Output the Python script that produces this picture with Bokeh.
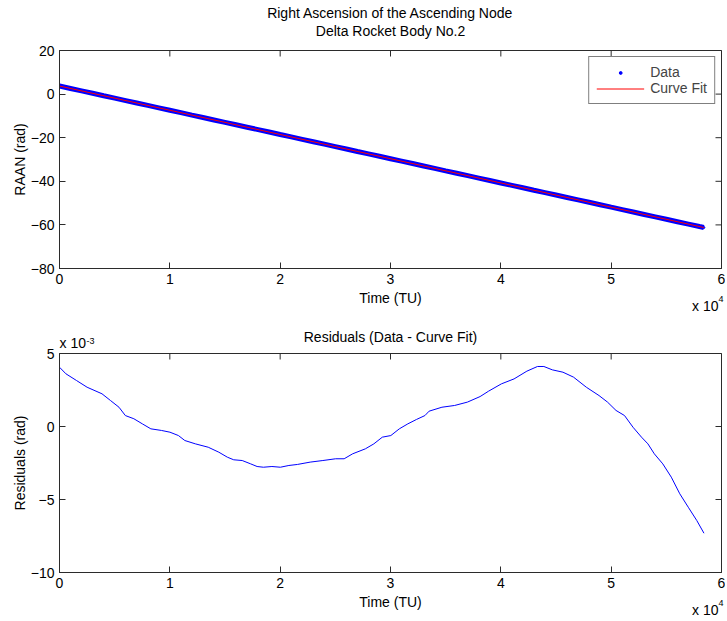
import math
from bokeh.plotting import figure
from bokeh.models import Range1d, FixedTicker, Title, Legend, LegendItem
from bokeh.layouts import column
from bokeh.embed import file_html
from bokeh.resources import INLINE

FONT = "Liberation Sans"
FS = "14px"
SUP = "9px"
AX = "#2b2b2b"

# ---- Top panel: RAAN data (rad) sampled along the orbit history ----
data_time = [0, 1000, 2000, 3000, 4000, 5000, 6000, 7000, 8000, 9000,
             10000, 11000, 12000, 13000, 14000, 15000, 16000, 17000, 18000, 19000,
             20000, 21000, 22000, 23000, 24000, 25000, 26000, 27000, 28000, 29000,
             30000, 31000, 32000, 33000, 34000, 35000, 36000, 37000, 38000, 39000,
             40000, 41000, 42000, 43000, 44000, 45000, 46000, 47000, 48000, 49000,
             50000, 51000, 52000, 53000, 54000, 55000, 56000, 57000, 58000, 58400]
data_raan = [3.70, 2.59, 1.48, 0.37, -0.75, -1.86, -2.97, -4.08, -5.19, -6.30,
             -7.41, -8.52, -9.64, -10.75, -11.86, -12.97, -14.08, -15.19, -16.30, -17.41,
             -18.53, -19.64, -20.75, -21.86, -22.97, -24.08, -25.19, -26.31, -27.42, -28.53,
             -29.64, -30.75, -31.86, -32.97, -34.08, -35.20, -36.31, -37.42, -38.53, -39.64,
             -40.75, -41.86, -42.97, -44.09, -45.20, -46.31, -47.42, -48.53, -49.64, -50.75,
             -51.87, -52.98, -54.09, -55.20, -56.31, -57.42, -58.53, -59.64, -60.76, -61.20]
fit_time = [0, 58400]
fit_raan = [3.70, -61.20]

# ---- Bottom panel: residuals (units of 1e-3 rad) ----
resid_time = [0, 580, 1540, 2500, 3850, 4620, 5390, 5970, 6740, 7510,
              8280, 9240, 10010, 10780, 11360, 12320, 13480, 14440, 15210, 15790,
              16560, 17330, 17910, 18480, 19250, 20020, 20790, 21560, 22720, 23870,
              25030, 25800, 26570, 27720, 28490, 29260, 30030, 30800, 31570, 32350,
              33120, 33500, 34660, 35810, 36970, 38120, 38890, 40050, 41200, 42360,
              43320, 43900, 44670, 45630, 46590, 47750, 48900, 49670, 50440, 51210,
              51980, 52750, 53330, 53910, 54680, 55450, 56220, 56990, 57760, 58410]
resid_e3 = [4.06, 3.61, 3.15, 2.69, 2.24, 1.78, 1.32, 0.75, 0.53, 0.18,
            -0.16, -0.27, -0.39, -0.62, -0.96, -1.19, -1.42, -1.76, -2.10, -2.28,
            -2.33, -2.56, -2.74, -2.79, -2.74, -2.79, -2.67, -2.60, -2.44, -2.33,
            -2.21, -2.21, -1.87, -1.53, -1.19, -0.73, -0.62, -0.16, 0.18, 0.48,
            0.75, 1.05, 1.32, 1.44, 1.67, 2.05, 2.42, 2.92, 3.26, 3.79,
            4.11, 4.11, 3.88, 3.72, 3.38, 2.69, 2.12, 1.67, 1.10, 0.75,
            -0.05, -0.73, -1.19, -1.87, -2.56, -3.47, -4.61, -5.53, -6.44, -7.31]

x_ticks = [0, 10000, 20000, 30000, 40000, 50000, 60000]
x_tick_labels = ["0", "1", "2", "3", "4", "5", "6"]
raan_ticks = [-80, -60, -40, -20, 0, 20]
resid_ticks = [-10, -5, 0, 5]
X_RANGE = (0, 60000)


def add_title(p, text, side, size, align, offset, standoff, valign="bottom"):
    t = Title(text=text, align=align, offset=offset, vertical_align=valign,
              text_font=FONT, text_font_size=size, text_font_style="normal",
              text_color="black")
    try:
        t.standoff = standoff
    except Exception:
        t.standoff = max(standoff, 0)
    p.add_layout(t, side)


def style_axis(ax):
    ax.major_tick_in = 6
    ax.major_tick_out = 0
    ax.minor_tick_line_color = None
    ax.axis_line_color = AX
    ax.major_tick_line_color = AX
    ax.major_label_text_font = FONT
    ax.major_label_text_font_size = FS
    ax.major_label_text_color = "black"
    ax.axis_label_text_font = FONT
    ax.axis_label_text_font_size = FS
    ax.axis_label_text_font_style = "normal"
    ax.axis_label_text_color = "black"


def base_fig(frame_h, top, bottom, yr, yticks, ylabel):
    p = figure(title=None, frame_width=662, frame_height=frame_h,
               x_range=Range1d(*X_RANGE), y_range=Range1d(*yr),
               min_border_left=59, min_border_right=4,
               min_border_top=top, min_border_bottom=bottom,
               output_backend="svg", toolbar_location=None)
    p.grid.visible = False
    p.outline_line_color = AX
    p.background_fill_color = "white"
    p.border_fill_color = "white"
    xa = p.xaxis[0]
    ya = p.yaxis[0]
    xa.ticker = FixedTicker(ticks=x_ticks)
    xa.major_label_overrides = {t: l for t, l in zip(x_ticks, x_tick_labels)}
    xa.axis_label = "Time (TU)"
    ya.ticker = FixedTicker(ticks=yticks)
    ya.axis_label = ylabel
    style_axis(xa)
    style_axis(ya)
    xa.major_label_standoff = 5
    xa.axis_label_standoff = 3
    ya.major_label_standoff = 5
    ya.axis_label_standoff = 0
    # mirrored inward ticks on the top and right edges of the box
    p.scatter(x_ticks, [yr[1]] * len(x_ticks), marker="dash", angle=math.pi / 2,
              size=12, line_color=AX, line_width=1)
    p.scatter([X_RANGE[1]] * len(yticks), yticks, marker="dash",
              size=12, line_color=AX, line_width=1)
    # multiplier under the right end of the x axis: "x 10^4"
    add_title(p, "x 10", "below", FS, "right", 3, -21, "top")
    add_title(p, "4", "below", SUP, "right", -2, -26, "top")
    return p


# ---------------- Top figure ----------------
p1 = base_fig(218, 50, 50, (-80, 20), raan_ticks, "RAAN (rad)")
add_title(p1, "Delta Rocket Body No.2", "above", FS, "center", 0, 23)
add_title(p1, "Right Ascension of the Ascending Node", "above", FS, "center", 0, -23)

band = p1.line(data_time, data_raan, line_color="#0000ff", line_width=5)
dots = p1.scatter(data_time, data_raan, size=2, marker="circle",
                  fill_color="#0000ff", line_color="#0000ff")
fit = p1.line(fit_time, fit_raan, line_color="#ff0000", line_width=1)

legend = Legend(items=[LegendItem(label="Data", renderers=[dots]),
                       LegendItem(label="Curve Fit", renderers=[fit])],
                location="top_right", margin=6, padding=7, spacing=0,
                glyph_width=48, glyph_height=7, label_standoff=6,
                label_text_font=FONT, label_text_font_size=FS,
                border_line_color="black", border_line_width=1,
                background_fill_color="white", background_fill_alpha=1.0)
p1.add_layout(legend)

# ---------------- Bottom figure ----------------
p2 = base_fig(219, 35, 45, (-10, 5), resid_ticks, "Residuals (rad)")
add_title(p2, "Residuals (Data - Curve Fit)", "above", FS, "center", 0, 17)
add_title(p2, "-3", "above", SUP, "left", 27, -50)
add_title(p2, "x 10", "above", FS, "left", 0, -65)
p2.line(resid_time, resid_e3, line_color="#0000ff", line_width=1)

layout = column(p1, p2)
open("out.html", "w").write(file_html(layout, INLINE))
